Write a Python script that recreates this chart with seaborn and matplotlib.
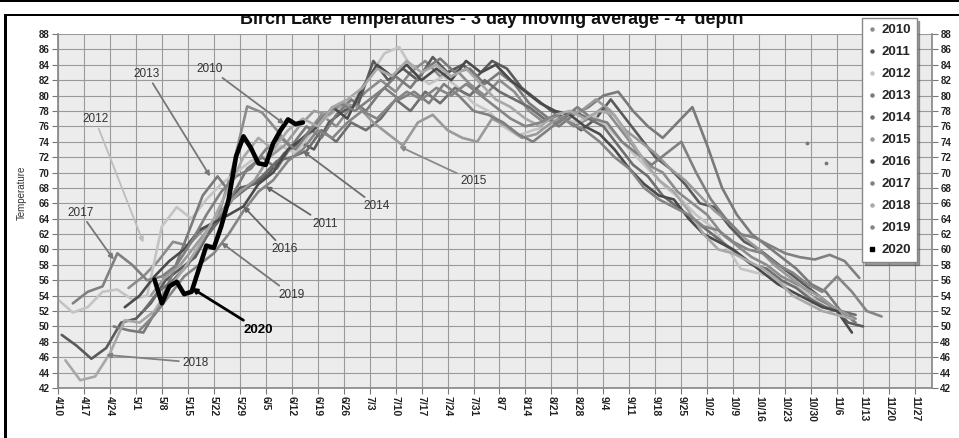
import pandas as pd
import seaborn as sns
import matplotlib.pyplot as plt
import matplotlib.dates as mdates
from matplotlib.lines import Line2D
from matplotlib.patches import Rectangle

# --- data (deg F, 3 day moving average) ---
years = ['2010', '2011', '2012', '2013', '2014', '2015', '2016', '2017', '2018', '2019', '2020']
starts = ['2020-04-29', '2020-04-11', '2020-04-10', '2020-04-25', '2020-05-03', '2020-05-05',
          '2020-04-28', '2020-04-14', '2020-04-12', '2020-05-02', '2020-05-06']
steps = [4, 4, 4, 4, 4, 4, 4, 4, 4, 4, 2]
colors = ['#8c8c8c', '#5a5a5a', '#c4c4c4', '#7a7a7a', '#6e6e6e', '#9a9a9a',
          '#4a4a4a', '#808080', '#a8a8a8', '#858585', '#000000']

t2010 = [55.0, 56.5, 58.5, 61.0, 60.5, 62.5, 64.0, 70.5, 78.6, 77.8, 75.5, 73.0, 75.0, 77.5, 76.0,
         78.5, 80.5, 82.0, 80.5, 83.0, 84.5, 82.5, 83.5, 81.5, 80.0, 82.0, 80.5, 78.0, 76.5, 77.5,
         76.0, 77.0, 78.5, 76.0, 73.5, 71.0, 70.0, 67.5, 66.0, 64.5, 62.0, 60.5, 59.0, 58.0, 56.5,
         55.5, 54.0, 53.0, 52.0, 51.0]
t2011 = [48.9, 47.5, 45.8, 47.2, 50.5, 51.0, 53.0, 56.0, 57.5, 59.0, 62.5, 65.5, 68.0, 68.5, 70.0,
         72.5, 74.0, 73.0, 76.5, 78.0, 79.0, 84.5, 82.0, 83.5, 82.0, 85.0, 83.0, 84.0, 82.5, 84.5,
         83.5, 81.0, 79.5, 78.0, 77.0, 75.5, 77.0, 79.5, 77.0, 74.5, 72.0, 70.5, 68.5, 66.0, 65.5,
         63.0, 61.0, 60.0, 58.5, 57.0, 55.5, 54.0, 52.5, 50.5, 50.0]
t2012 = [53.5, 51.8, 52.5, 54.5, 54.8, 53.5, 54.0, 63.0, 65.5, 64.0, 66.5, 68.5, 70.0, 71.5, 72.0,
         73.5, 72.5, 75.0, 77.0, 78.5, 79.5, 82.5, 85.5, 86.3, 83.0, 81.5, 82.5, 81.0, 79.0, 78.0,
         76.0, 74.8, 75.5, 76.0, 77.0, 76.5, 77.5, 76.0, 74.0, 72.0, 70.0, 68.0, 66.5, 64.5, 63.0,
         60.5, 57.5, 57.0, 56.5, 55.5, 55.0, 53.5]
t2013 = [50.0, 49.5, 49.2, 52.5, 57.0, 62.0, 67.0, 69.5, 67.0, 70.5, 72.0, 70.5, 73.5, 76.0, 74.5,
         77.5, 79.5, 78.0, 80.5, 82.5, 81.0, 83.5, 84.8, 83.0, 83.5, 81.5, 83.0, 81.5, 79.0, 77.5,
         76.0, 77.5, 78.5, 80.0, 80.5, 78.0, 76.0, 74.5, 76.5, 78.5, 73.5, 68.0, 64.5, 62.0, 60.5,
         59.0, 57.5, 55.5, 54.5, 52.0, 50.5]
t2014 = [52.0, 54.5, 56.0, 58.0, 61.0, 63.5, 66.5, 68.0, 69.5, 71.5, 72.0, 72.8, 75.5, 74.0, 76.5,
         75.5, 77.0, 79.5, 78.0, 80.5, 79.0, 81.0, 80.0, 82.0, 80.5, 79.5, 78.5, 77.0, 76.5, 78.0,
         77.0, 76.0, 73.5, 71.0, 69.5, 67.0, 65.5, 64.0, 62.5, 61.0, 59.5, 58.0, 57.5, 56.0, 55.0,
         53.5, 52.5, 52.0, 51.5]
t2015 = [54.0, 56.5, 58.0, 60.5, 63.0, 65.5, 67.5, 69.0, 72.0, 73.5, 76.0, 78.0, 77.5, 79.0, 78.5,
         76.5, 75.0, 73.5, 76.5, 77.5, 75.5, 74.5, 74.0, 77.0, 76.0, 74.5, 75.0, 76.5, 77.5, 78.0,
         79.5, 78.0, 75.5, 74.0, 72.5, 70.5, 69.0, 67.0, 65.0, 63.5, 61.5, 60.0, 58.0, 56.5, 55.0,
         54.0, 52.5, 51.5]
t2016 = [52.5, 54.0, 56.5, 58.5, 60.0, 62.5, 63.5, 64.5, 65.6, 68.5, 70.0, 73.0, 74.5, 76.0, 78.5,
         77.0, 81.0, 84.0, 82.5, 84.0, 82.0, 83.5, 82.0, 84.5, 83.0, 84.0, 82.0, 80.5, 79.0, 78.0,
         77.5, 76.0, 75.0, 73.0, 70.5, 68.5, 67.0, 66.5, 64.0, 62.0, 61.0, 60.0, 58.5, 57.0, 55.5,
         54.5, 53.5, 52.5, 52.0, 49.2]
t2017 = [53.0, 54.5, 55.2, 59.5, 58.0, 56.0, 56.5, 58.0, 61.0, 64.5, 67.5, 69.5, 70.5, 73.0, 74.5,
         73.0, 75.5, 77.5, 79.0, 78.0, 79.5, 81.0, 79.5, 80.5, 79.0, 81.5, 80.0, 78.0, 77.5, 76.5,
         75.0, 74.0, 75.5, 77.0, 78.5, 77.0, 76.5, 74.0, 72.5, 71.0, 72.5, 74.0, 70.0, 66.5, 64.0,
         62.0, 61.5, 60.5, 59.5, 59.0, 58.7, 59.3, 58.5, 56.3]
t2018 = [45.6, 43.0, 43.5, 46.5, 50.8, 50.5, 52.0, 55.0, 57.5, 60.5, 64.0, 68.0, 72.0, 74.5, 73.0,
         75.5, 77.0, 76.0, 78.5, 79.5, 81.0, 83.5, 82.5, 84.5, 83.0, 84.0, 82.5, 83.5, 81.5, 79.5,
         78.5, 77.0, 76.0, 77.5, 78.0, 77.0, 78.0, 77.5, 74.5, 71.5, 69.0, 67.5, 65.0, 62.0, 60.0,
         59.5, 58.5, 57.5, 56.0, 54.0, 53.0, 52.0, 51.5, 51.0]
t2019 = [49.5, 51.5, 54.0, 56.5, 58.0, 59.5, 62.0, 65.0, 67.5, 69.0, 71.5, 73.0, 75.5, 74.5, 76.5,
         78.0, 77.0, 79.0, 80.5, 79.5, 81.0, 80.0, 81.5, 80.0, 78.5, 77.0, 76.0, 76.5, 77.5, 76.5,
         75.5, 74.0, 72.0, 70.5, 68.0, 66.5, 65.5, 64.5, 63.0, 62.5, 61.0, 60.0, 59.5, 58.0, 57.0,
         55.5, 54.5, 56.5, 54.5, 52.0, 51.3]
t2020 = [56.1, 53.0, 55.2, 55.8, 54.2, 54.5, 57.5, 60.5, 60.2, 63.0, 66.5, 72.1, 74.7, 73.2, 71.2,
         71.0, 73.8, 75.5, 76.9, 76.3, 76.5]
series = [t2010, t2011, t2012, t2013, t2014, t2015, t2016, t2017, t2018, t2019, t2020]

stray_dates = ['2020-10-29', '2020-11-03']
stray_vals = [73.9, 71.2]

rows = []
for yr, st, sp, vals in zip(years, starts, steps, series):
    dates = pd.date_range(st, periods=len(vals), freq=f'{sp}D')
    for d, v in zip(dates, vals):
        rows.append({'year': yr, 'date': d, 'temp': v})
df = pd.DataFrame(rows)

sns.set_theme(style='whitegrid', rc={
    'axes.facecolor': '#ececec',
    'axes.edgecolor': '#8a8a8a',
    'grid.color': '#9a9a9a',
    'grid.linewidth': 0.8,
})
plt.rcParams['font.family'] = ['Liberation Sans', 'DejaVu Sans']

fig = plt.figure(figsize=(9.59, 4.38), dpi=100)
ax = fig.add_axes([58 / 959, 50 / 438, (932 - 58) / 959, (388 - 34) / 438])

for yr, c in zip(years, colors):
    lw = 3.3 if yr == '2020' else 1.9
    sns.lineplot(data=df[df.year == yr], x='date', y='temp', color=c, lw=lw,
                 ax=ax, legend=False, sort=False, estimator=None)
ax.scatter(pd.to_datetime(stray_dates), stray_vals, s=3, color='#777777', zorder=3)

# axes
ax.set_xlim(pd.Timestamp('2020-04-10'), pd.Timestamp('2020-12-01 14:00'))
ax.set_ylim(42, 88)
ticks = pd.date_range('2020-04-10', '2020-11-27', freq='7D')
ax.set_xticks(ticks)
ax.set_xticklabels([f'{d.month}/{d.day}' for d in ticks], rotation=-90,
                   fontsize=7.5, fontweight='bold', color='#222222')
ax.set_yticks(range(42, 89, 2))
ax.tick_params(axis='y', labelsize=7, labelcolor='#222222', left=True, right=True,
               labelright=True, length=4, width=0.8, color='#777777', pad=2)
ax.tick_params(axis='x', bottom=True, length=4, width=0.8, color='#777777', pad=2)
for lab in ax.get_yticklabels():
    lab.set_fontweight('bold')
ax.set_xlabel('')
ax.set_ylabel('')
ax.spines['top'].set_visible(False)
ax.grid(True, which='major')

fig.text(22 / 959, 1 - 193 / 438, 'Temperature', rotation=90, fontsize=7,
         ha='center', va='center', color='#333333')

# year call-outs: (label, text position, arrow tip, colour, bold)
notes = [
    ('2010', ('2020-05-21', 83.5), ('2020-06-10', 76.3), '#777777', False),
    ('2013', ('2020-05-04', 82.8), ('2020-05-21', 69.5), '#777777', False),
    ('2012', ('2020-04-20', 76.9), ('2020-05-03', 60.9), '#bdbdbd', False),
    ('2017', ('2020-04-16', 64.8), ('2020-04-25', 58.7), '#777777', False),
    ('2018', ('2020-05-17', 45.3), ('2020-04-23', 46.3), '#808080', False),
    ('2020', ('2020-06-03', 49.6), ('2020-05-16', 55.0), '#000000', True),
    ('2019', ('2020-06-12', 54.1), ('2020-05-24', 60.9), '#777777', False),
    ('2016', ('2020-06-10', 60.0), ('2020-05-30', 65.6), '#666666', False),
    ('2011', ('2020-06-21', 63.3), ('2020-06-05', 68.2), '#666666', False),
    ('2014', ('2020-07-05', 65.6), ('2020-06-15', 72.8), '#6e6e6e', False),
    ('2015', ('2020-07-31', 68.9), ('2020-07-11', 73.4), '#8a8a8a', False),
]
for lab, (td, tv), (ad, av), c, bold in notes:
    ax.annotate(lab, xy=(mdates.date2num(pd.Timestamp(ad)), av),
                xytext=(mdates.date2num(pd.Timestamp(td)), tv),
                ha='center', va='center',
                fontsize=9.5 if bold else 8.5,
                fontweight='bold' if bold else 'normal',
                color='#000000' if bold else '#333333',
                arrowprops=dict(arrowstyle='-|>', color=c, lw=2.0 if bold else 1.3,
                                mutation_scale=7, shrinkA=0, shrinkB=0),
                zorder=6)

# legend with marker-only entries
handles = []
for yr, c in zip(years, colors):
    if yr == '2020':
        handles.append(Line2D([], [], marker='s', ms=3.5, ls='none', color=c))
    else:
        handles.append(Line2D([], [], marker='o', ms=2.2, ls='none', color=c))
leg = ax.legend(handles, years, loc='upper left', bbox_to_anchor=(862 / 959, 1 - 18 / 438),
                bbox_transform=fig.transFigure, borderaxespad=0,
                prop={'weight': 'bold', 'size': 9.5}, handlelength=0.6, handletextpad=0.4,
                labelspacing=0.74, borderpad=0.45, frameon=True, fancybox=False,
                shadow=True, framealpha=1)
leg.get_frame().set_edgecolor('#888888')
leg.get_frame().set_facecolor('white')
leg.set_zorder(10)

fig.text(492 / 959, 1 - 24 / 438, "Birch Lake Temperatures - 3 day moving average - 4' depth",
         ha='center', va='baseline', fontsize=13, fontweight='bold', color='#111111')

# scanned frame around the chart
fig.add_artist(Rectangle((0, 1 - 14 / 438), 1, 12 / 438, transform=fig.transFigure,
                         facecolor='white', edgecolor='none', zorder=20))
fig.add_artist(Rectangle((0, 1 - 2 / 438), 1, 2 / 438, transform=fig.transFigure,
                         facecolor='black', edgecolor='none', zorder=21))
fig.add_artist(Rectangle((4 / 959, 1 - 16 / 438), 1, 2.5 / 438, transform=fig.transFigure,
                         facecolor='black', edgecolor='none', zorder=21))
fig.add_artist(Rectangle((4 / 959, 0), 3 / 959, 1 - 14 / 438, transform=fig.transFigure,
                         facecolor='black', edgecolor='none', zorder=21))

fig.savefig('out.png', dpi=100)
